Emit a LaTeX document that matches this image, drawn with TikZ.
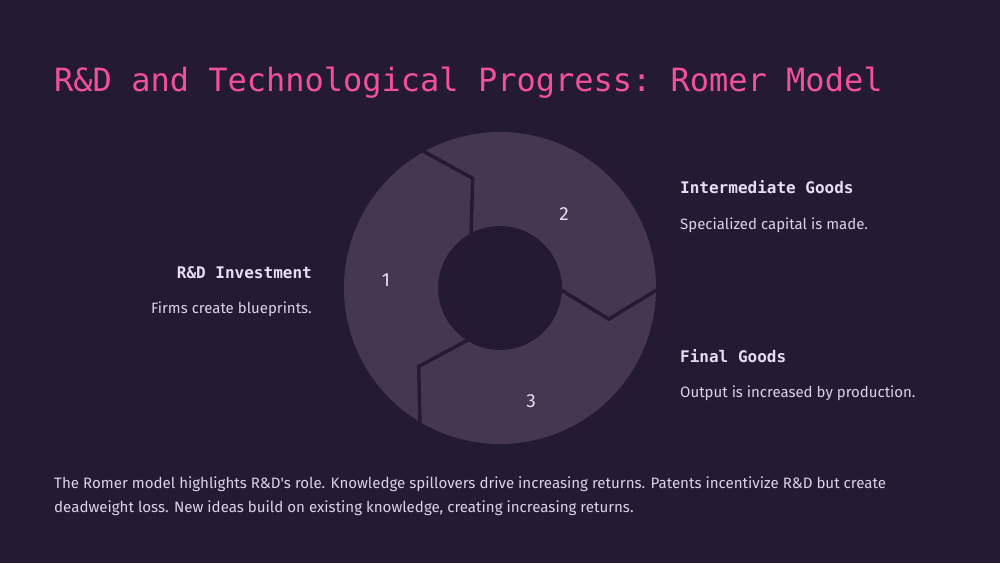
\documentclass[tikz,border=0pt]{standalone}
\usepackage{fontspec}
\setmainfont{Fira Sans}
\setmonofont{DejaVu Sans Mono}
\usetikzlibrary{calc,positioning}

\definecolor{bgcol}{HTML}{241A33}
\definecolor{ringcol}{HTML}{453751}
\definecolor{pinkcol}{HTML}{F0509E}
\definecolor{labelcol}{HTML}{E8DEF2}
\definecolor{desccol}{HTML}{DCD3E6}

\tikzset{
    ringpart/.style={fill=ringcol, even odd rule},
    cutline/.style={draw=bgcol, line width=3.5pt, line join=miter},
    headtext/.style={
        text=pinkcol,
        font=\ttfamily\fontsize{32}{38}\selectfont,
        inner sep=0pt
    },
    steptitle/.style={
        text=labelcol,
        font=\ttfamily\bfseries\fontsize{16}{19}\selectfont,
        inner sep=0pt
    },
    stepdesc/.style={
        text=desccol,
        font=\fontsize{15}{18}\selectfont,
        inner sep=0pt
    },
    stepnum/.style={
        text=labelcol,
        font=\fontsize{19}{22}\selectfont,
        inner sep=0pt
    },
    bodytext/.style={
        text=desccol,
        font=\fontsize{15.1}{24}\selectfont,
        align=left,
        inner sep=0pt
    }
}

\begin{document}
\begin{tikzpicture}[x=1pt,y=1pt]
    \fill[bgcol] (0,0) rectangle (1000,563);
    \useasboundingbox (0,0) rectangle (1000,563);

    \node[headtext, anchor=base west] (title) at (54,471)
        {R\&D and Technological Progress: Romer Model};

    % -- the cycle -- %
    \coordinate (c) at (500,275);
    \fill[ringpart] (c) circle (156) (c) circle (62);
    \foreach \a in {120,0,240}
        \draw[cutline] ($(c)+(\a:160)$) -- ($(c)+(\a-16:113)$) -- ($(c)+(\a:58)$);

    \node[stepnum] (num1) at (386,283) {1};
    \node[stepnum] (num2) at (564,349) {2};
    \node[stepnum] (num3) at (531,162) {3};

    % -- step texts -- %
    \node[steptitle, anchor=base east] (rdlabel) at (312,285) {R\&D Investment};
    \node[stepdesc, anchor=base east] (rdtext) at ($(rdlabel.base east)+(0,-35)$)
        {Firms create blueprints.};

    \node[steptitle, anchor=base west] (midlabel) at (680,369) {Intermediate Goods};
    \node[stepdesc, anchor=base west] (midtext) at ($(midlabel.base west)+(0,-35)$)
        {Specialized capital is made.};

    \node[steptitle, anchor=base west] (finlabel) at (680,201) {Final Goods};
    \node[stepdesc, anchor=base west] (fintext) at ($(finlabel.base west)+(0,-35)$)
        {Output is increased by production.};

    % -- summary -- %
    \node[bodytext, anchor=base west] (summary) at (54,51)
        {The Romer model highlights R\&D\textquotesingle s role. Knowledge spillovers drive increasing returns. Patents incentivize R\&D but create\\
         deadweight loss. New ideas build on existing knowledge, creating increasing returns.};
\end{tikzpicture}
\end{document}
